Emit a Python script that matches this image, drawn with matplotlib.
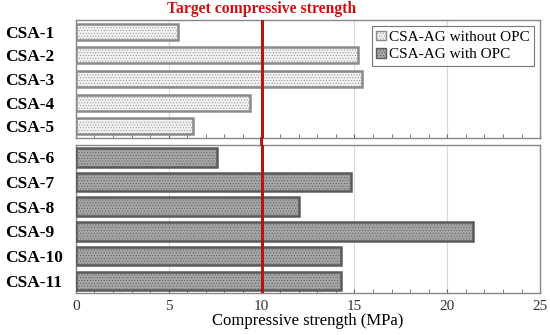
import matplotlib.pyplot as plt
from matplotlib.patches import Patch, ConnectionPatch
from matplotlib.ticker import MultipleLocator
import matplotlib.transforms as mtransforms

plt.rcParams['font.family'] = ['Liberation Serif', 'DejaVu Serif']
plt.rcParams['hatch.linewidth'] = 0.4

# data
labels_a = ['CSA-1', 'CSA-2', 'CSA-3', 'CSA-4', 'CSA-5']
values_a = [5.5, 15.2, 15.4, 9.4, 6.3]
labels_b = ['CSA-6', 'CSA-7', 'CSA-8', 'CSA-9', 'CSA-10', 'CSA-11']
values_b = [7.6, 14.8, 12.0, 21.4, 14.3, 14.3]
target = 10
xmax = 25

fig = plt.figure(figsize=(5.5, 3.35), dpi=100)
ax1 = fig.add_axes([0.138, 0.588, 0.844, 0.352])
ax2 = fig.add_axes([0.138, 0.125, 0.844, 0.442])

def style(ax, labels, values, face, edge, h):
    ax.barh(range(len(values)), values, height=h, color=face, edgecolor=edge,
            linewidth=1.8, hatch='......', zorder=3)
    ax.set_yticks(range(len(values)))
    ax.set_yticklabels(labels, fontsize=12.5, fontweight='bold', ha='left')
    ax.set_ylim(len(values) - 0.5, -0.5)
    ax.set_xlim(0, xmax)
    ax.xaxis.set_major_locator(MultipleLocator(5))
    ax.xaxis.set_minor_locator(MultipleLocator(1))
    ax.tick_params(axis='y', length=0, pad=51)
    ax.tick_params(axis='x', which='both', direction='in', length=3, color='#666666')
    ax.grid(axis='x', color='#d8d8d8', linewidth=0.8, zorder=0)
    for s in ax.spines.values():
        s.set_color('#888888')
        s.set_linewidth(1.0)
    ax.axvline(target, color='#b01818', linewidth=2.2, zorder=5)

style(ax1, labels_a, values_a, '#f2f2f2', '#8a8a8a', 0.68)
style(ax2, labels_b, values_b, '#a6a6a6', '#5a5a5a', 0.75)

ax1.tick_params(axis='x', labelbottom=False)
ax2.tick_params(axis='x', labelsize=11, labelcolor='#333333', pad=5)
ax2.set_xlabel('Compressive strength (MPa)', fontsize=12, labelpad=0)

# red line crossing the gap between panels
con = ConnectionPatch(xyA=(target, ax1.get_ylim()[0]), coordsA=ax1.transData,
                      xyB=(target, ax2.get_ylim()[1]), coordsB=ax2.transData,
                      color='#b01818', linewidth=2.2, zorder=5)
fig.add_artist(con)

trans = mtransforms.blended_transform_factory(ax1.transData, ax1.transAxes)
ax1.text(target, 1.025, 'Target compressive strength', transform=trans,
         ha='center', va='bottom', color='#d01010', fontsize=11.3, fontweight='bold')

handles = [Patch(facecolor='#f2f2f2', edgecolor='#8a8a8a', hatch='......', label='CSA-AG without OPC'),
           Patch(facecolor='#a6a6a6', edgecolor='#5a5a5a', hatch='......', label='CSA-AG with OPC')]
leg = ax1.legend(handles=handles, loc='upper right', fontsize=11, frameon=True, fancybox=False,
                 handlelength=0.6, handleheight=0.6, handletextpad=0.2, borderpad=0.3,
                 labelspacing=0.25, borderaxespad=0.4)
leg.get_frame().set_edgecolor('#555555')
leg.get_frame().set_linewidth(0.8)

fig.savefig('out.png', dpi=100)
